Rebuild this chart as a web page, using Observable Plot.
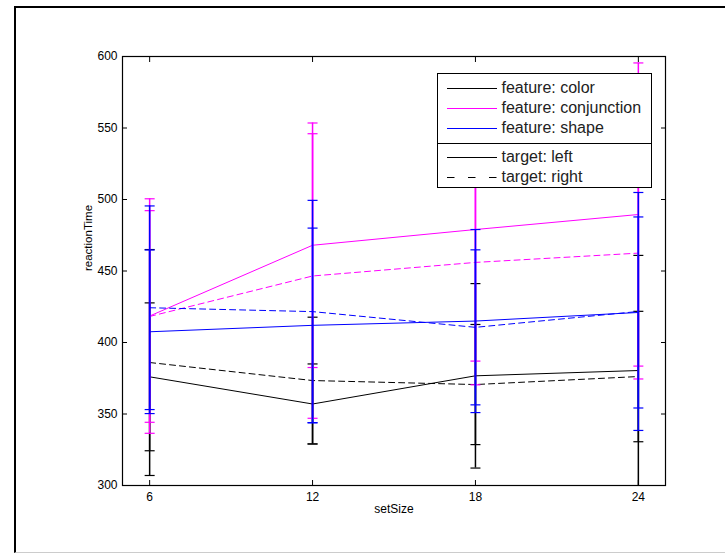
<!DOCTYPE html>
<html>
<head>
<meta charset="utf-8">
<script src="https://cdn.jsdelivr.net/npm/d3@7"></script>
<script src="https://cdn.jsdelivr.net/npm/@observablehq/plot@0.6"></script>
<style>
  body { margin: 0; background: #fff; }
  #wrap { position: relative; width: 725px; height: 554px; overflow: hidden; font-family: "Liberation Sans", Arial, sans-serif; background: #fff; }
  #border { position: absolute; left: 14px; top: 6px; width: 760px; height: 544px; border-left: 2px solid #000; border-top: 2px solid #000; border-bottom: 1px solid #ccc; box-sizing: content-box; }
  #chart { position: absolute; left: 0; top: 0; }
  #legend { position: absolute; left: 437px; top: 73px; width: 213px; height: 113px; border: 1.5px solid #000; background: #fff; }
  #legend .sep { position: absolute; left: 0; right: 0; top: 68.5px; border-top: 1.5px solid #000; }
  #legend .row { position: absolute; left: 0; height: 20px; width: 100%; }
  #legend .row svg { position: absolute; left: 9px; top: 0; }
  #legend .row span { position: absolute; left: 63.5px; top: 0; line-height: 20px; font-size: 16px; color: #222; white-space: nowrap; }
</style>
</head>
<body>
<div id="wrap">
  <div id="border"></div>
  <div id="chart"></div>
  <div id="legend"></div>
</div>
<script>
// ---- data ----
const setSizes = [6, 12, 18, 24];
const features = ["color", "conjunction", "shape"];
const targets = ["left", "right"];
const featureColors = ["#000000", "#ff00ff", "#0000ff"];
const targetDash = ["none", "6,4"];
const xTicks = [6, 12, 18, 24];
const yTicks = [300, 350, 400, 450, 500, 550, 600];
const xLabel = ["setSize"];
const yLabel = ["reactionTime"];

const colorLeftMean = [376, 357, 376.7, 380.4];
const colorLeftErr = [51.7, 28, 64.5, 80.5];
const colorRightMean = [386, 373.4, 370.6, 376.2];
const colorRightErr = [79, 44.3, 42, 45.6];
const conjunctionLeftMean = [418.5, 468, 479, 489.5];
const conjunctionLeftErr = [82, 85.5, 92, 106];
const conjunctionRightMean = [418.2, 446.5, 456, 462.5];
const conjunctionRightErr = [74, 99.5, 85.6, 88];
const shapeLeftMean = [407.5, 412, 415, 421];
const shapeLeftErr = [57.2, 68, 64, 66.8];
const shapeRightMean = [424.3, 421.6, 410.6, 421.7];
const shapeRightErr = [71.2, 77.8, 54.2, 83.2];

const seriesValues = {
  color: { left: [colorLeftMean, colorLeftErr], right: [colorRightMean, colorRightErr] },
  conjunction: { left: [conjunctionLeftMean, conjunctionLeftErr], right: [conjunctionRightMean, conjunctionRightErr] },
  shape: { left: [shapeLeftMean, shapeLeftErr], right: [shapeRightMean, shapeRightErr] }
};

// ---- marks ----
const capSymbol = {
  draw(context, size) {
    const r = Math.sqrt(size / Math.PI);
    context.moveTo(-r, 0);
    context.lineTo(r, 0);
  }
};

const seriesMarks = [];
features.forEach((f, fi) => {
  targets.forEach((t, ti) => {
    const [means, errs] = seriesValues[f][t];
    const rows = setSizes.map((s, i) => ({ setSize: s, mean: means[i], err: errs[i] }));
    const color = featureColors[fi];
    seriesMarks.push(
      Plot.ruleX(rows, { x: "setSize", y1: d => d.mean - d.err, y2: d => d.mean + d.err, stroke: color, strokeWidth: 1.5, clip: true }),
      Plot.dot(rows, { x: "setSize", y: d => d.mean - d.err, r: 5, symbol: capSymbol, fill: "none", stroke: color, strokeWidth: 1.2, clip: true }),
      Plot.dot(rows, { x: "setSize", y: d => d.mean + d.err, r: 5, symbol: capSymbol, fill: "none", stroke: color, strokeWidth: 1.2, clip: true }),
      Plot.line(rows, { x: "setSize", y: "mean", stroke: color, strokeWidth: 1, strokeDasharray: targetDash[ti], clip: true })
    );
  });
});

const chart = Plot.plot({
  width: 725,
  height: 554,
  marginLeft: 122,
  marginRight: 60,
  marginTop: 56,
  marginBottom: 69,
  style: { fontFamily: "'Liberation Sans', Arial, sans-serif", fontSize: "12px", color: "#000", background: "transparent" },
  x: { domain: [5, 25], ticks: xTicks },
  y: { domain: [300, 600], ticks: yTicks },
  marks: [
    ...seriesMarks,
    Plot.frame({ stroke: "#000", strokeWidth: 1.2 }),
    Plot.axisX(xTicks, { anchor: "bottom", tickSize: 0, tickPadding: 7, label: null, fontSize: 12 }),
    Plot.axisX(xTicks, { anchor: "bottom", tickSize: 5, dy: -5, fill: "none", label: null }),
    Plot.axisX(xTicks, { anchor: "top", tickSize: 5, dy: 5, fill: "none", label: null }),
    Plot.axisY(yTicks, { anchor: "left", tickSize: 0, tickPadding: 5, label: null, fontSize: 12 }),
    Plot.axisY(yTicks, { anchor: "left", tickSize: 5, dx: 5, fill: "none", label: null }),
    Plot.axisY(yTicks, { anchor: "right", tickSize: 5, dx: -5, fill: "none", label: null }),
    Plot.text(yLabel, { text: d => d, frameAnchor: "left", rotate: -90, dx: -34, fontSize: 11.5 }),
    Plot.text(xLabel, { text: d => d, frameAnchor: "bottom", dy: 27, fontSize: 12 })
  ]
});
document.getElementById("chart").appendChild(chart);

// ---- legend (HTML overlay) ----
const legend = document.getElementById("legend");
const legendRows = [
  ...features.map((f, i) => ({ label: "feature: " + f, color: featureColors[i], dash: "none" })),
  ...targets.map((t, i) => ({ label: "target: " + t, color: "#000", dash: targetDash[i] }))
];
const rowTops = [3.5, 24, 44, 73, 92.5];
legendRows.forEach((r, i) => {
  const row = document.createElement("div");
  row.className = "row";
  row.style.top = rowTops[i] + "px";
  row.innerHTML = `<svg width="52" height="20"><line x1="0" x2="50" y1="10.5" y2="10.5" stroke="${r.color}" stroke-width="1" ${r.dash !== "none" ? `stroke-dasharray="7.5,13.5"` : ""}/></svg><span>${r.label}</span>`;
  legend.appendChild(row);
});
const sep = document.createElement("div");
sep.className = "sep";
legend.appendChild(sep);
</script>
</body>
</html>
